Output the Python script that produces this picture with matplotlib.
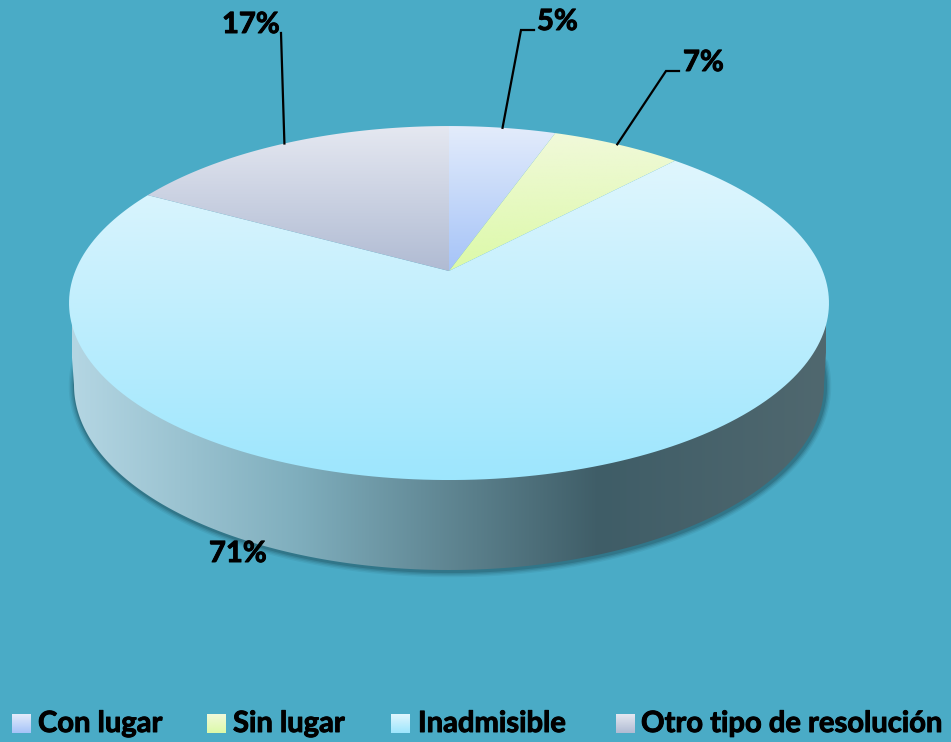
import numpy as np
import matplotlib
matplotlib.use("Agg")
import matplotlib.pyplot as plt
import matplotlib.patheffects as pe
from matplotlib.colors import LinearSegmentedColormap
from matplotlib.patches import Polygon

categories = ["Con lugar", "Sin lugar", "Inadmisible", "Otro tipo de resolución"]
values = [5.4, 6.6, 71, 17]
labels = ["5%", "7%", "71%", "17%"]

BG = "#4AABC6"
# top and bottom colour of each slice gradient
slice_colors = [("#E3ECFB", "#A5C3F8"), ("#F1F9DA", "#DCF9A8"), ("#E0F6FD", "#9DE6FD"), ("#E5E8F1", "#B0BBD3")]
wall_stops = [(0.0, "#B4D6E3"), (0.3, "#7FAEBD"), (0.7, "#3F5D67"), (1.0, "#50686F")]

# pie top is a circle seen in perspective, apex sits above the ellipse centre
APEX_X, APEX_Y = 449, 271
PERSP = 0.181
SCALE_X, SCALE_Y = 373.7, 171.2
# lower rim of the pie wall
RIM_X, RIM_Y, RIM_A, RIM_B = 449, 385, 375, 185

fig = plt.figure(figsize=(9.51, 7.42), dpi=100, facecolor=BG)
ax = fig.add_axes([0, 0, 1, 1])
ax.set_xlim(0, 951)
ax.set_ylim(742, 0)
ax.axis("off")
plt.rcParams["font.family"] = ["Lato", "DejaVu Sans"]
heavy = [pe.withStroke(linewidth=0.7, foreground="black")]


def project(turn):
    # turn is clockwise from 12 o'clock, 0..1
    t = 2 * np.pi * np.asarray(turn, dtype=float)
    d = 1 + PERSP * np.cos(t)
    return APEX_X + SCALE_X * np.sin(t) / d, APEX_Y - SCALE_Y * np.cos(t) / d


def gradient(points, stops, x0, x1, y0, y1, vertical=True, zorder=2):
    cmap = LinearSegmentedColormap.from_list("g", stops)
    ramp = np.linspace(0, 1, 256)
    ramp = ramp.reshape(-1, 1) if vertical else ramp.reshape(1, -1)
    im = ax.imshow(ramp, cmap=cmap, extent=(x0, x1, y1, y0), aspect="auto", zorder=zorder, interpolation="bilinear")
    im.set_clip_path(Polygon(points, closed=True, transform=ax.transData))
    ax.set_xlim(0, 951)
    ax.set_ylim(742, 0)


# wall outline: left and right sides plus lower half of the rim
a = np.linspace(0, np.pi, 300)
rim_x = RIM_X + RIM_A * np.cos(a)
rim_y = RIM_Y + RIM_B * np.sin(a)
wall = np.column_stack([np.r_[829, rim_x, 68], np.r_[303, rim_y, 303]])

# soft shadow under the wall
a2 = np.linspace(-0.12, np.pi + 0.12, 300)
shadow_x = RIM_X + RIM_A * np.cos(a2)
shadow_y = RIM_Y + RIM_B * np.sin(a2)
for lw, alpha in zip([9, 7, 5, 3], [0.07, 0.1, 0.14, 0.2]):
    ax.plot(shadow_x + 1, shadow_y + 1, color="#12323C", lw=lw, alpha=alpha, zorder=1, solid_capstyle="round")

gradient(wall, wall_stops, 72, 826, 300, 575, vertical=False, zorder=2)

# top surface, one polygon per slice
start = 0.0
mids = []
for i, v in enumerate(values):
    frac = v / sum(values)
    turns = np.linspace(start, start + frac, 200)
    x, y = project(turns)
    pts = np.column_stack([np.r_[APEX_X, x], np.r_[APEX_Y, y]])
    gradient(pts, list(slice_colors[i]), pts[:, 0].min(), pts[:, 0].max(), pts[:, 1].min(), pts[:, 1].max(), zorder=3)
    mids.append(start + frac / 2)
    start += frac

# leader lines from the rim to the labels
elbows = {0: [(521, 30), (534, 30)], 1: [(666, 71), (679, 71)], 3: [(281, 33)]}
for i, bend in elbows.items():
    x, y = project(mids[i])
    xs = [float(x)] + [p[0] for p in bend]
    ys = [float(y)] + [p[1] for p in bend]
    ax.plot(xs, ys, color="black", lw=1.6, zorder=5, solid_joinstyle="miter")

label_pos = [(537, 22), (683, 63), (209, 554), (222, 25)]
for lab, (x, y) in zip(labels, label_pos):
    ax.text(x, y, lab, fontsize=21, fontweight="bold", color="black", va="center", ha="left", zorder=6, path_effects=heavy)

# legend
swatch_x = [12, 207, 391, 616]
text_x = [38, 233, 418, 641]
for i, name in enumerate(categories):
    sx = swatch_x[i]
    box = [(sx, 714), (sx + 19, 714), (sx + 19, 733), (sx, 733)]
    gradient(box, list(slice_colors[i]), sx, sx + 19, 714, 733, zorder=3)
    ax.text(text_x[i], 724, name, fontsize=21, fontweight="bold", color="black", va="center", ha="left", zorder=6, path_effects=heavy)

fig.savefig("out.png", dpi=100, facecolor=BG)
